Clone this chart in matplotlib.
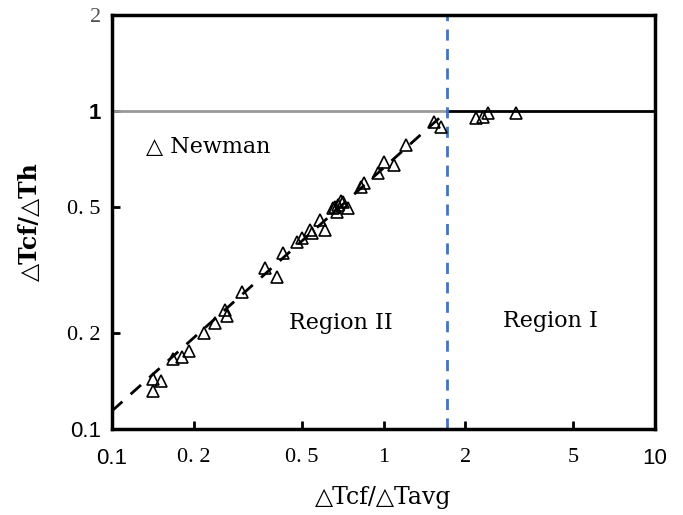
import numpy as np
import matplotlib.pyplot as plt
from matplotlib.ticker import NullLocator

# Newman data points
newman_x = [0.141, 0.152, 0.142, 0.168, 0.181, 0.192, 0.219, 0.240, 0.261, 0.266,
            0.302, 0.367, 0.406, 0.428, 0.482, 0.503, 0.547, 0.538, 0.586, 0.611,
            0.654, 0.682, 0.712, 0.737, 0.676, 0.700, 0.660, 0.823, 0.844,
            0.958, 1.000, 1.089, 1.206, 1.529, 1.623,
            2.185, 2.319, 2.420, 3.069]
newman_y = [0.144, 0.142, 0.132, 0.166, 0.168, 0.176, 0.201, 0.216, 0.236, 0.227,
            0.269, 0.320, 0.300, 0.357, 0.386, 0.398, 0.412, 0.421, 0.453, 0.421,
            0.494, 0.505, 0.516, 0.494, 0.480, 0.520, 0.500, 0.576, 0.593,
            0.637, 0.690, 0.676, 0.781, 0.923, 0.890,
            0.950, 0.957, 0.986, 0.986]

# boundary between the two regions
x_crit = 1.72
fit_x = [0.1, x_crit]
fit_y = [0.114, 1.0]

xticks = [0.1, 0.2, 0.5, 1, 2, 5, 10]
xlabels = ['0.1', '0. 2', '0. 5', '1', '2', '5', '10']
yticks = [0.1, 0.2, 0.5, 1, 2]
ylabels = ['0.1', '0. 2', '0. 5', '1', '2']

serif = ['Liberation Serif', 'DejaVu Serif', 'DejaVu Sans']
wide = ['DejaVu Serif', 'DejaVu Sans']
sans = ['Liberation Sans', 'DejaVu Sans']
plt.rcParams['font.family'] = serif

fig = plt.figure(figsize=(6.83, 5.15), dpi=100)
ax = fig.add_axes([112/683, 1-429/515, (655-112)/683, (429-15)/515])
ax.set_xscale('log')
ax.set_yscale('log')
ax.set_xlim(0.1, 10)
ax.set_ylim(0.1, 2)

# y = 1 line: grey in region II, black in region I
ax.plot([0.1, x_crit], [1, 1], color='#999999', lw=2, zorder=2)
ax.plot([x_crit, 10], [1, 1], color='black', lw=2, zorder=2)
# fitted dashed line
ax.plot(fit_x, fit_y, color='black', lw=2, dashes=(5, 4), zorder=2)
# vertical boundary
ax.plot([x_crit, x_crit], [0.1, 2], color='#4472C4', lw=2, dashes=(4, 3), zorder=2)

ax.plot(newman_x, newman_y, linestyle='none', marker='^', markersize=9,
        mfc='none', mec='black', mew=1.2, zorder=3)

ax.text(0.133, 0.77, '△ Newman', fontsize=16, family=wide, va='center', ha='left')
ax.text(0.694, 0.216, 'Region II', fontsize=16, family=wide, va='center', ha='center')
ax.text(4.13, 0.219, 'Region I', fontsize=16, family=wide, va='center', ha='center')

ax.xaxis.set_minor_locator(NullLocator())
ax.yaxis.set_minor_locator(NullLocator())
ax.set_xticks(xticks)
ax.set_xticklabels(xlabels)
ax.set_yticks(yticks)
ax.set_yticklabels(ylabels)
ax.tick_params(direction='in', length=6, width=2, labelsize=16)
ax.tick_params(axis='x', pad=14)
ax.tick_params(axis='y', pad=8)
for lab in ax.get_xticklabels() + ax.get_yticklabels():
    if lab.get_text() in ('0.1', '10'):
        lab.set_family(sans)
ax.get_yticklabels()[3].set_family(sans)
ax.get_yticklabels()[3].set_fontweight('bold')
ax.get_yticklabels()[4].set_color('#555555')

for s in ax.spines.values():
    s.set_linewidth(2.5)

ax.set_xlabel('△Tcf/△Tavg', fontsize=17, family=wide, labelpad=12)
ax.set_ylabel('△Tcf/△Th', fontsize=17, family=wide, fontweight='bold', labelpad=18)

fig.savefig('out.png', dpi=100)
